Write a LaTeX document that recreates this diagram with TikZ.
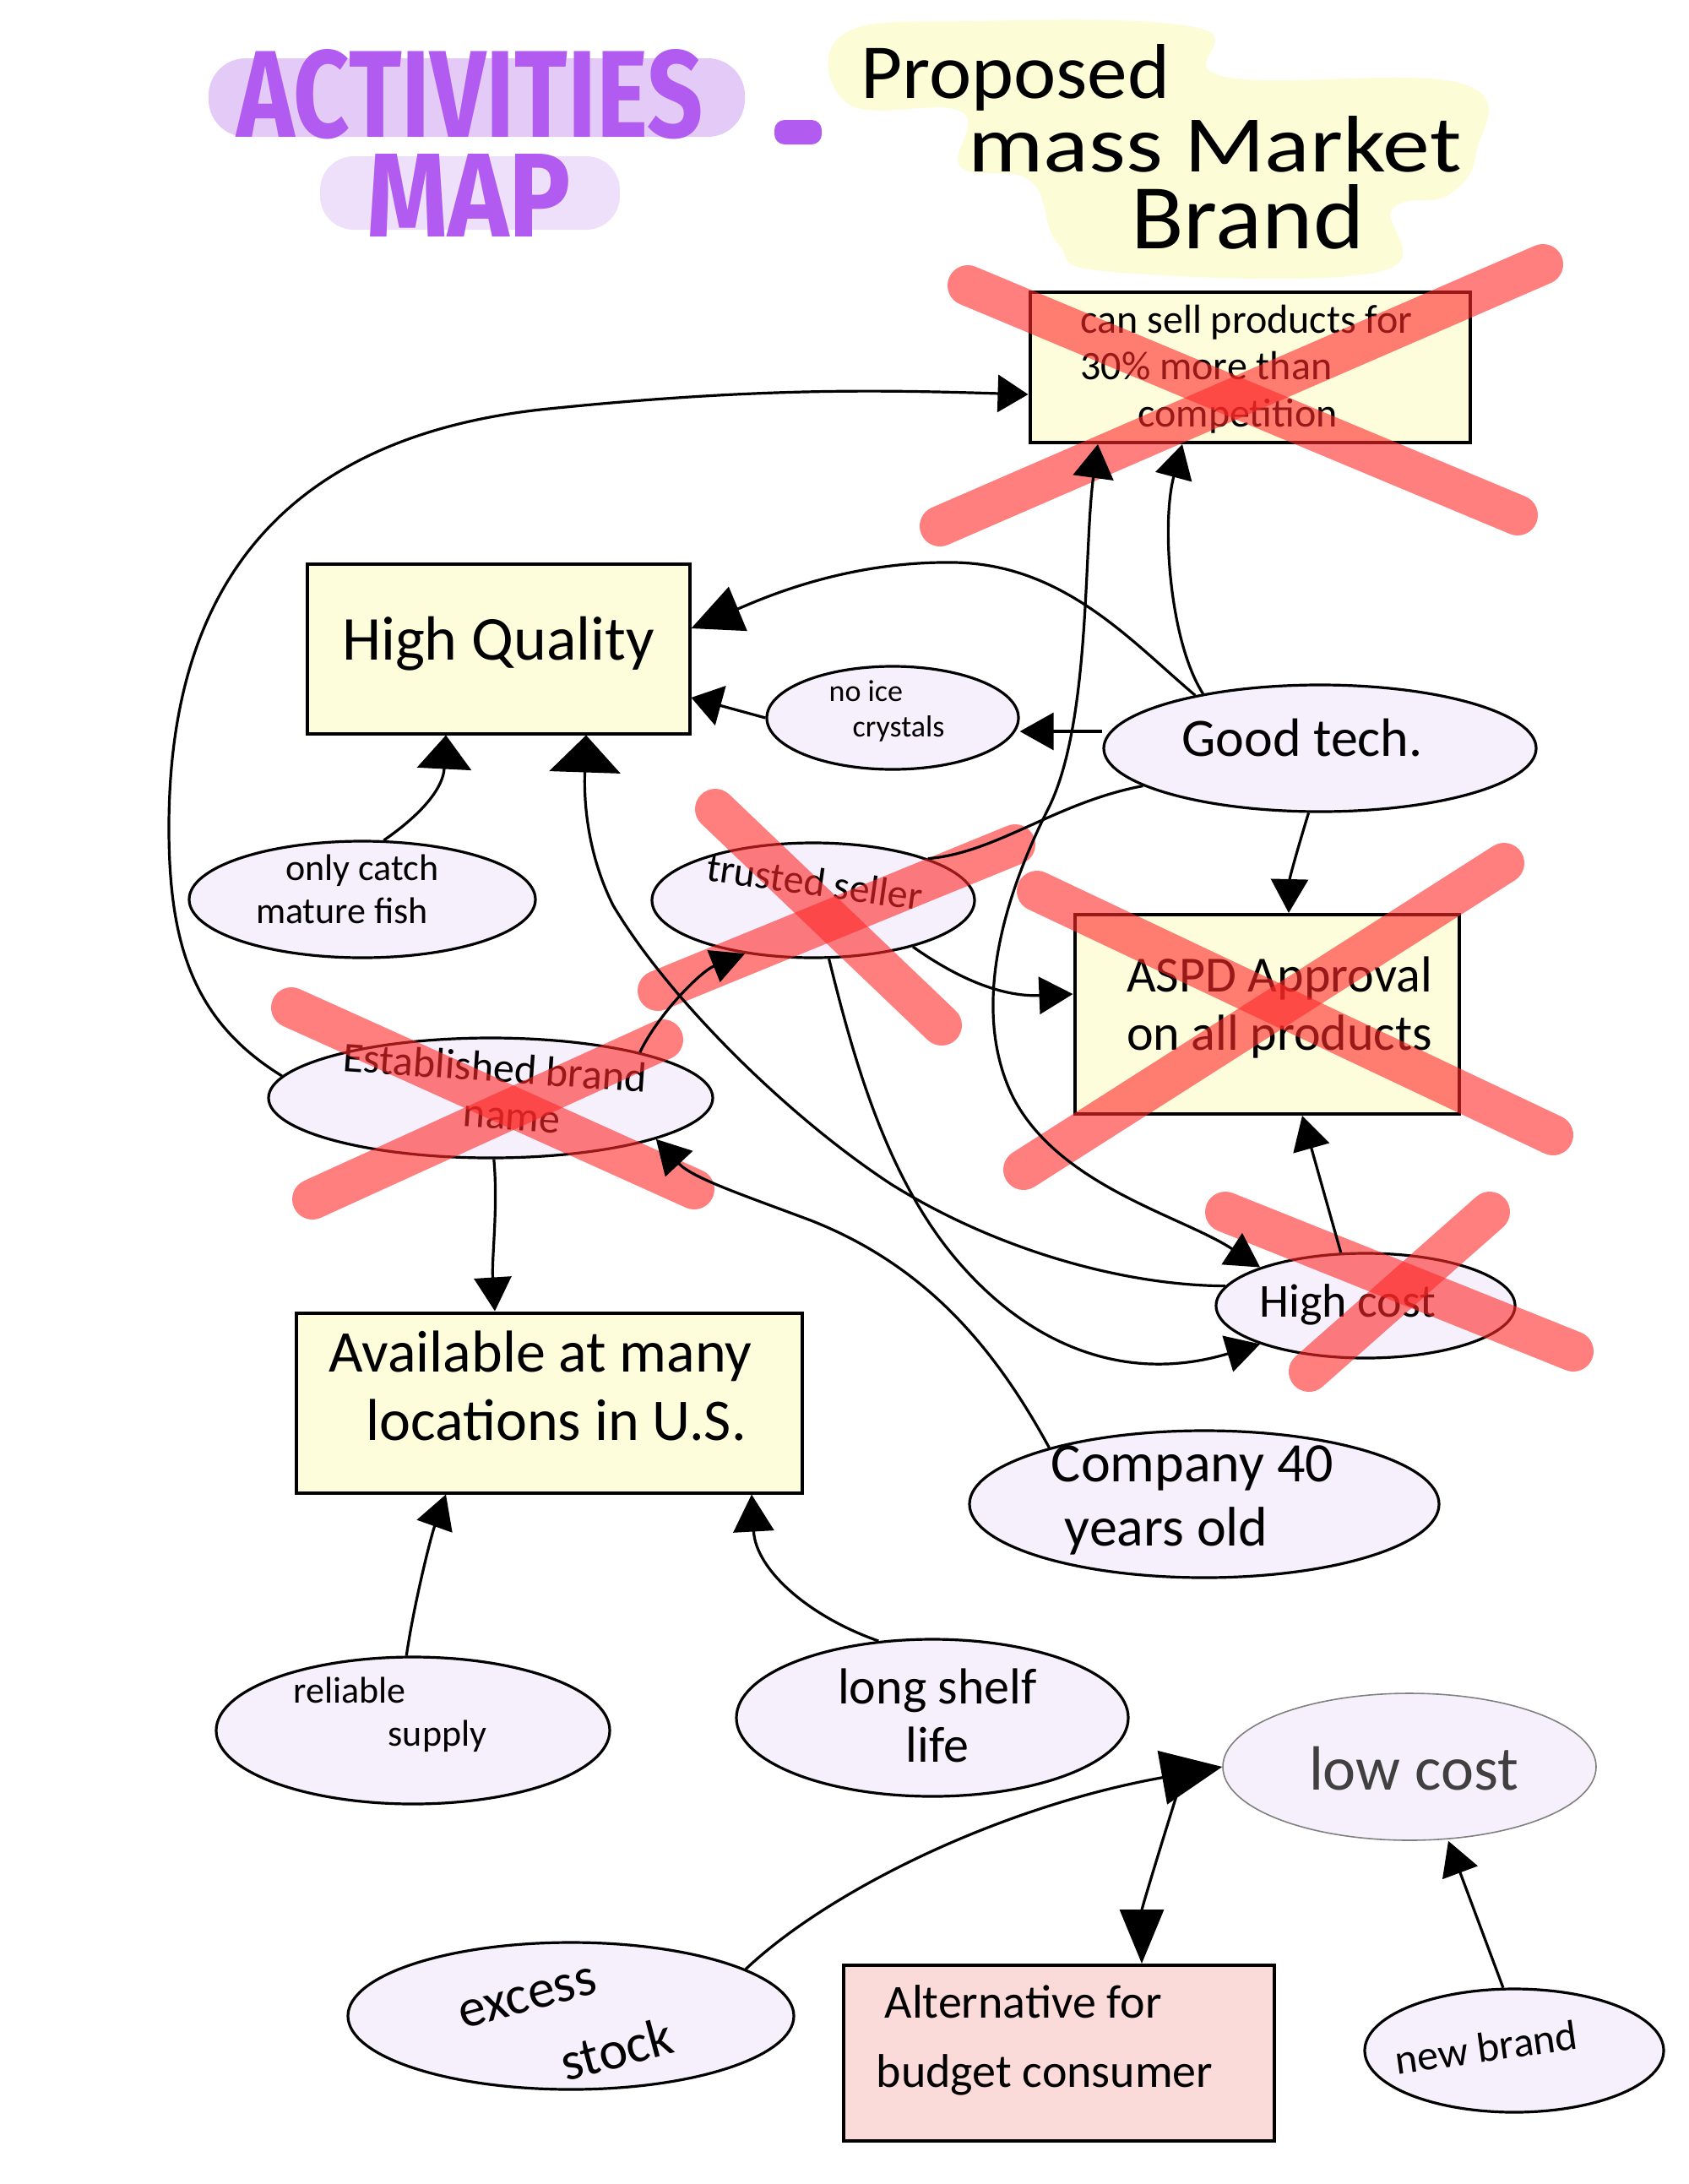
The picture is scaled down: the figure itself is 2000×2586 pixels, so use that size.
\documentclass[tikz,border=0pt]{standalone}
\usepackage{fontspec}
\setmainfont{Carlito}
\newfontfamily\titlefont{Fira Sans}
\usetikzlibrary{arrows.meta,shapes.geometric}
\definecolor{boxyellow}{HTML}{FDFDDC}
\definecolor{ellfill}{HTML}{F5F0FB}
\definecolor{pinkfill}{HTML}{FBDADA}
\definecolor{xred}{RGB}{255,40,40}
\definecolor{titlepurple}{HTML}{B25BF0}
\definecolor{hilite}{HTML}{E4CBF7}
\definecolor{hilitetwo}{HTML}{EEE0FA}
\definecolor{blobyellow}{HTML}{FCFCD6}
\newcommand{\fs}[1]{\fontsize{#1}{1.15\dimexpr #1pt\relax}\selectfont}
\begin{document}
\begin{tikzpicture}[x=0.5pt,y=-0.5pt,
  box/.style={draw=black, line width=2pt, fill=boxyellow, rectangle, inner sep=0pt},
  ell/.style={draw=black, line width=1.6pt, fill=ellfill, ellipse, inner sep=0pt},
  xmark/.style={draw=xred, draw opacity=0.6, line width=24pt, line cap=round},
  conn/.style={draw=black, line width=1.6pt, -{Triangle[length=20pt,width=22pt]}},
  lbl/.style={inner sep=0pt, align=left}]
\useasboundingbox (0,0) rectangle (2000,2586);
\fill[white] (0,0) rectangle (2000,2586);

% ---------- title ----------
\fill[hilite, rounded corners=22pt] (247,69) rectangle (882,162);
\fill[hilitetwo, rounded corners=20pt] (379,185) rectangle (734,272);
\node[anchor=base west, inner sep=0pt, text=titlepurple] (t1) at (280,162) {\resizebox{276pt}{52pt}{\titlefont\bfseries ACTIVITIES}};
\node[anchor=base west, inner sep=0pt, text=titlepurple] (t2) at (434,280) {\resizebox{121pt}{49pt}{\titlefont\bfseries MAP}};
\fill[titlepurple, rounded corners=6pt] (917,142) rectangle (973,171);
\fill[blobyellow] plot[smooth cycle, tension=0.7] coordinates {(998,41) (1154,25) (1418,33) (1451,91) (1731,99) (1748,181) (1715,231) (1649,247) (1632,322) (1319,322) (1253,289) (1220,214) (1138,198) (1138,132) (1006,124)};
\node[anchor=base west, inner sep=0pt] (p1) at (1019,116) {\resizebox{183pt}{32pt}{\fs{40}Proposed}};
\node[anchor=base west, inner sep=0pt] (p2) at (1146,203) {\resizebox{292pt}{33pt}{\fs{40}mass Market}};
\node[anchor=base west, inner sep=0pt] (p3) at (1339,294) {\resizebox{138pt}{38pt}{\fs{40}Brand}};

% ---------- nodes ----------
\node[box, minimum width=260.5pt, minimum height=89pt] (cs) at (1480,435) {};
\node[lbl, font=\fs{24}] (csT) at (1476,437) {can sell products for\\30\% more than\\\hspace*{34pt}competition};

\node[box, minimum width=226.5pt, minimum height=100.5pt] (hq) at (590,768) {};
\node[lbl, font=\fs{37}] (hqT) at (590,762) {High Quality};

\node[ell, minimum width=149pt, minimum height=61pt] (ni) at (1057,850) {};
\node[lbl, font=\fs{18}] (niT) at (1050,842) {no ice\\\hspace*{14pt}crystals};

\node[ell, minimum width=256pt, minimum height=75pt] (gt) at (1563,886) {};
\node[lbl, font=\fs{32}] (gtT) at (1542,874) {Good tech.};

\node[ell, minimum width=205pt, minimum height=69pt] (oc) at (429,1065) {};
\node[lbl, align=center, font=\fs{22}] (ocT) at (405,1053) {\hspace*{24pt}only catch\\mature fish};

\node[ell, minimum width=191pt, minimum height=68pt] (ts) at (963,1066) {};
\node[lbl, font=\fs{24}] (tsT) at (965,1044) {\rotatebox{-8}{trusted seller}};

\node[box, minimum width=227.5pt, minimum height=118pt] (ap) at (1500,1201) {};
\node[lbl, font=\fs{30}] (apT) at (1515,1193) {ASPD Approval\\on all products};

\node[ell, minimum width=263pt, minimum height=71pt] (eb) at (581,1300) {};
\node[lbl, font=\fs{25}] (ebT) at (584,1297) {\rotatebox{-4}{\begin{tabular}{@{}c@{}}Established brand\\[-1pt]\hspace*{24pt}name\end{tabular}}};

\node[ell, minimum width=177pt, minimum height=62pt] (hc) at (1617,1546) {};
\node[lbl, font=\fs{28}] (hcT) at (1596,1545) {High cost};

\node[box, minimum width=299.5pt, minimum height=106.5pt] (av) at (650,1661) {};
\node[lbl, font=\fs{35}] (avT) at (640,1641) {Available at many\\\hspace*{22pt}locations in U.S.};

\node[ell, minimum width=278pt, minimum height=87pt] (co) at (1426,1781) {};
\node[lbl, font=\fs{33}] (coT) at (1412,1776) {Company 40\\\hspace*{8pt}years old};

\node[ell, minimum width=233pt, minimum height=87pt] (rs) at (489,2049) {};
\node[lbl, font=\fs{22}] (rsT) at (462,2030) {reliable\\\hspace*{56pt}supply};

\node[ell, minimum width=232pt, minimum height=93pt] (ls) at (1104,2034) {};
\node[lbl, align=center, font=\fs{30}] (lsT) at (1110,2031) {long shelf\\life};

\node[ell, draw=gray, line width=0.8pt, minimum width=221pt, minimum height=87pt] (lc) at (1669,2092) {};
\node[lbl, font=\fs{37}, text=black!75] (lcT) at (1674,2094) {low cost};

\node[ell, minimum width=264pt, minimum height=87pt] (es) at (676,2387) {};
\node[lbl, font=\fs{32}] (esT1) at (625,2366) {\rotatebox{15}{excess}};
\node[lbl, font=\fs{32}] (esT2) at (730,2426) {\rotatebox{15}{stock}};

\node[box, fill=pinkfill, minimum width=255pt, minimum height=104pt] (al) at (1254,2431) {};
\node[lbl, font=\fontsize{28}{41}\selectfont] (alT) at (1237,2416) {\hspace*{5pt}Alternative for\\budget consumer};

\node[ell, minimum width=177pt, minimum height=73pt] (nb) at (1793,2428) {};
\node[lbl, font=\fs{25}] (nbT) at (1760,2424) {\rotatebox{8}{new brand}};

% ---------- red crosses ----------
\draw[xmark] (1146,338) -- (1797,610);
\draw[xmark] (1827,313) -- (1113,623);
\draw[xmark] (847,958) -- (1115,1214);
\draw[xmark] (1202,1000) -- (779,1173);
\draw[xmark] (1228,1055) -- (1839,1344);
\draw[xmark] (1781,1022) -- (1212,1385);
\draw[xmark] (345,1193) -- (822,1408);
\draw[xmark] (785,1231) -- (370,1420);
\draw[xmark] (1451,1435) -- (1863,1600);
\draw[xmark] (1764,1435) -- (1550,1624);

% ---------- connectors ----------
\draw[conn, -{Triangle[length=18pt,width=22pt]}] (eb.174) .. controls (230,1210) and (200,1120) .. (200,980) .. controls (200,700) and (330,520) .. (640,485) .. controls (900,458) and (1050,462) .. ([yshift=-16pt]cs.west);
\draw[conn, -{Triangle[length=30pt,width=28pt]}] (gt.157) .. controls (1340,760) and (1260,668) .. (1130,666) .. controls (1000,664) and (900,710) .. ([yshift=12pt]hq.east);
\draw[conn, -{Triangle[length=18pt,width=24pt]}] (ni.west) -- ([yshift=-29pt]hq.east);
\draw[conn] ([yshift=10pt]gt.west) -- ([yshift=-8pt]ni.east);
\draw[conn] (gt.155) .. controls (1385,760) and (1375,620) .. ([xshift=-40pt]cs.south);
\draw[conn, {Triangle[length=20pt,width=24pt]}-{Triangle[length=20pt,width=22pt]}] ([xshift=-90pt]cs.south) .. controls (1283,650) and (1292,860) .. (1240,960) .. controls (1185,1070) and (1150,1200) .. (1200,1300) .. controls (1255,1405) and (1400,1440) .. (hc.160);
\draw[conn] (gt.-100) .. controls (1535,1010) and (1527,1040) .. ([xshift=13pt]ap.north);
\draw[conn] (ts.-25) .. controls (1150,1170) and (1200,1180) .. ([yshift=12pt]ap.west);
\draw[conn] (ts.-75) .. controls (1010,1250) and (1050,1400) .. (1140,1500) .. controls (1220,1590) and (1330,1640) .. (hc.200);
\draw[conn, -{Triangle[length=20pt,width=20pt]}] (eb.17) .. controls (780,1200) and (830,1150) .. (ts.-142);
\draw[conn] (eb.-87) .. controls (590,1430) and (582,1490) .. ([xshift=-32pt]av.north);
\draw[conn] (co.160) .. controls (1180,1600) and (1100,1500) .. (960,1445) .. controls (880,1415) and (820,1395) .. (eb.-14);
\draw[conn, -{Triangle[length=22pt,width=42pt]}] (hc.172) .. controls (1330,1522) and (1180,1480) .. (1055,1402) .. controls (930,1320) and (790,1180) .. (726,1072) .. controls (690,1000) and (692,930) .. ([xshift=52pt]hq.south);
\draw[conn, -{Triangle[length=20pt,width=32pt]}] (oc.70) .. controls (505,960) and (525,930) .. ([xshift=-31pt]hq.south);
\draw[conn] (hc.115) -- ([xshift=21pt]ap.south);
\draw[conn] (rs.95) .. controls (490,1900) and (510,1820) .. ([xshift=-61pt]av.south);
\draw[conn, -{Triangle[length=22pt,width=24pt]}] (ls.125) .. controls (960,1915) and (895,1860) .. ([xshift=120pt]av.south);
\draw[conn, -{Triangle[length=36pt,width=32pt]}] (es.15) .. controls (980,2240) and (1180,2140) .. (lc.west);
\draw[conn, -{Triangle[length=32pt,width=26pt]}] ([xshift=-27pt,yshift=-17pt]lc.west) .. controls (1370,2200) and (1352,2260) .. ([xshift=49pt]al.north);
\draw[conn] (nb.100) -- ([xshift=23pt]lc.south);
\draw[line width=1.6pt] (gt.192) .. controls (1250,950) and (1180,1010) .. (ts.20);
\end{tikzpicture}
\end{document}
